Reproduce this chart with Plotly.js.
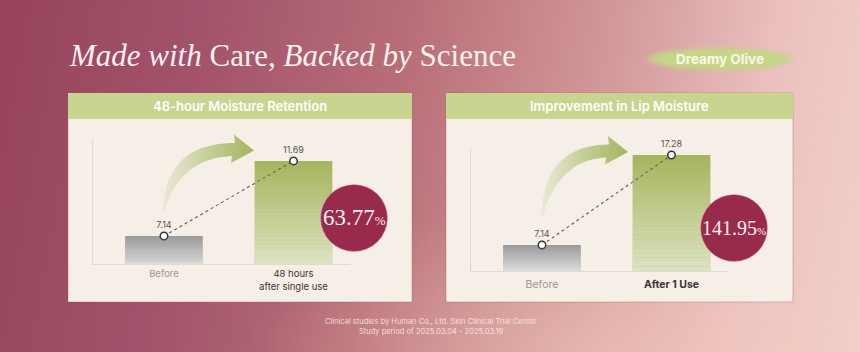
<!DOCTYPE html>
<html><head><meta charset="utf-8">
<script src="https://cdn.plot.ly/plotly-3.0.1.min.js"></script>
<style>
html,body{margin:0;padding:0;}
#chart{width:860px;height:352px;
background:
 radial-gradient(ellipse 60% 70% at 70% 105%, rgba(244,205,185,0.55), rgba(244,205,185,0) 70%),
 linear-gradient(100deg,#97445a 0%,#a2526a 22%,#b86e78 45%,#d39a9c 68%,#ebc0bf 85%,#f2d0cb 100%);}
</style></head>
<body><div id="chart"></div>
<script>
// ---- data ----
const chartTitle = '<i>Made with</i> Care, <i>Backed by</i> Science';
const badgeText = 'Dreamy Olive';
const panel1Title = '48-hour Moisture Retention';
const panel2Title = 'Improvement in Lip Moisture';
const categories1 = ['Before', '48 hours<br>after single use'];
const categories2 = ['Before', 'After 1 Use'];
const values1 = [7.14, 11.69];
const values2 = [7.14, 17.28];
const increase1 = '63.77';
const increase2 = '141.95';
const yRange1 = [5.44, 13.02];
const yRange2 = [4.21, 18.18];
const footer = ['Clinical studies by Human Co., Ltd. Skin Clinical Trial Center',
                'Study period of 2025.03.04 - 2025.03.19'];

// ---- helpers ----
const W = 860, H = 352;
const px = x => x / W, py = y => 1 - y / H;
const SANS = 'Inter, "Open Sans", sans-serif';
const SERIF = '"Liberation Serif", "DejaVu Serif", serif';

const traces = [];
const shapes = [];
const annotations = [];

function addPanel(x0, x1, title) {
  shapes.push({type:'rect', xref:'paper', yref:'paper', x0:px(x0), x1:px(x1), y0:py(302), y1:py(93),
    fillcolor:'#f6efe7', line:{color:'rgba(150,90,90,0.35)', width:1}, layer:'below'});
  shapes.push({type:'rect', xref:'paper', yref:'paper', x0:px(x0), x1:px(x1), y0:py(119), y1:py(93),
    fillcolor:'#c8d590', line:{width:0}, layer:'below'});
  annotations.push({xref:'paper', yref:'paper', x:px((x0+x1)/2), y:py(106.5), xanchor:'center', yanchor:'middle',
    text:title, showarrow:false, font:{family:SANS, size:13, color:'#ffffff', weight:600}});
}
addPanel(68, 412, panel1Title);
addPanel(446, 793, panel2Title);

function addChart(ax, vals, cats, yr) {
  const xa = ax === 1 ? 'x' : 'x2', ya = ax === 1 ? 'y' : 'y2';
  const idx = vals.map((v, i) => i);
  traces.push({type:'bar', x: idx, y: vals, width:0.6, xaxis:xa, yaxis:ya,
    marker:{color:['#9a9a9a', '#a5b55d'], line:{width:0}}, hoverinfo:'skip'});
  // vertical fade overlay on the bars
  const N = 26;
  vals.forEach((v, j) => {
    const lo = yr[0];
    for (let k = 0; k < N; k++) {
      const a = v - (v - lo) * k / N, b = v - (v - lo) * (k + 1) / N;
      shapes.push({type:'rect', xref:xa, yref:ya, x0:j - 0.3, x1:j + 0.3, y0:b, y1:a,
        fillcolor:'#ffffff', opacity:(j === 0 ? 0.66 : 0.62) * (k + 0.5) / N, line:{width:0}, layer:'above'});
    }
  });
  traces.push({type:'scatter', mode:'lines+markers+text', x: idx, y: vals, xaxis:xa, yaxis:ya,
    text: vals.map(v => v.toFixed(2)), textposition:'top center',
    textfont:{family:SANS, size:9, color:'#555555'},
    line:{color:'#5a5a5a', width:1.1, dash:'dot'},
    marker:{size:7.5, color:'#ffffff', line:{color:'#333333', width:1.5}}, hoverinfo:'skip', cliponaxis:false});
}
addChart(1, values1, categories1, yRange1);
addChart(2, values2, categories2, yRange2);

// curved arrows (decoration) on a full-canvas pixel overlay axis
function arrow(tx, ty, hx, hy) {
  const oe = [hx - 19, hy - 7.5], ht = [hx - 20, hy - 16], hb = [hx - 23, hy + 12.5], is = [hx - 22, hy + 5.5];
  const oc = [tx + 2, oe[1]], ic = [tx + 17, is[1] + 2];
  const X = [], Y = [];
  const n = 24;
  for (let i = 0; i <= n; i++) {
    const t = i / n;
    X.push((1-t)*(1-t)*tx + 2*(1-t)*t*oc[0] + t*t*oe[0]);
    Y.push((1-t)*(1-t)*ty + 2*(1-t)*t*oc[1] + t*t*oe[1]);
  }
  X.push(ht[0], hx, hb[0], is[0]); Y.push(ht[1], hy, hb[1], is[1]);
  for (let i = 0; i <= n; i++) {
    const t = i / n;
    X.push((1-t)*(1-t)*is[0] + 2*(1-t)*t*ic[0] + t*t*(tx + 1));
    Y.push((1-t)*(1-t)*is[1] + 2*(1-t)*t*ic[1] + t*t*ty);
  }
  traces.push({type:'scatter', mode:'lines', x:X, y:Y, xaxis:'x3', yaxis:'y3', fill:'toself',
    line:{width:0, color:'rgba(0,0,0,0)'}, hoverinfo:'skip',
    fillgradient:{type:'horizontal', colorscale:[[0,'rgba(226,230,204,0.7)'],[0.5,'#c3ce96'],[1,'#a4b55f']]}});
}
arrow(163, 211, 254, 150.5);
arrow(541, 218, 628, 152);

// percentage circles
function badge(cx, cy, r, val, size) {
  shapes.push({type:'circle', xref:'paper', yref:'paper', x0:px(cx - r), x1:px(cx + r), y0:py(cy + r), y1:py(cy - r),
    fillcolor:'#982a4b', line:{color:'rgba(235,170,180,0.5)', width:1}, layer:'above'});
  annotations.push({xref:'paper', yref:'paper', x:px(cx), y:py(cy), xanchor:'center', yanchor:'middle', showarrow:false,
    text: val + '<span style="font-size:' + Math.round(size * 0.55) + 'px">%</span>',
    font:{family:SERIF, size:size, color:'#fbf1f1'}});
}
badge(354, 218, 33.5, increase1, 23);
badge(734, 228, 33.5, increase2, 20);

// title
annotations.push({xref:'paper', yref:'paper', x:px(67), y:py(55), xanchor:'left', yanchor:'middle', showarrow:false,
  text: chartTitle, font:{family:SERIF, size:31, color:'#fbf2ef'}});

// Dreamy Olive glow
[[152, 27, 0.25], [144, 23, 0.4], [134, 19, 0.65], [122, 15, 0.9]].forEach(([w, h, o]) => {
  shapes.push({type:'circle', xref:'paper', yref:'paper', x0:px(720 - w/2), x1:px(720 + w/2), y0:py(59 + h/2), y1:py(59 - h/2),
    fillcolor:'#c4d785', opacity:o, line:{width:0}, layer:'below'});
});
annotations.push({xref:'paper', yref:'paper', x:px(720), y:py(59), xanchor:'center', yanchor:'middle', showarrow:false,
  text: badgeText, font:{family:SANS, size:13.5, color:'#fbf8e6', weight:700}});

// footer
footer.forEach((t, i) => annotations.push({xref:'paper', yref:'paper', x:px(431), y:py(321 + i * 10), xanchor:'center',
  yanchor:'middle', showarrow:false, text:t, font:{family:SANS, size:7.5, color:'rgba(255,238,236,0.85)'}}));

const xBase = {range:[-0.548, 1.444], showgrid:false, zeroline:false, showline:true, linecolor:'#e2d9d0', linewidth:1,
  ticks:'outside', ticklen:3, tickcolor:'rgba(0,0,0,0)', fixedrange:true};
const yBase = {showgrid:false, zeroline:false, showline:true, linecolor:'#e2d9d0', linewidth:1,
  showticklabels:false, ticks:'', fixedrange:true};

const layout = {
  width: W, height: H, margin:{l:0, r:0, t:0, b:0},
  paper_bgcolor:'rgba(0,0,0,0)', plot_bgcolor:'rgba(0,0,0,0)',
  showlegend:false, barmode:'overlay',
  xaxis: Object.assign({}, xBase, {domain:[px(93), px(351)], anchor:'y', tickvals:[0,1], ticklen:1,
    ticktext:['<span style="color:#9b9595">' + categories1[0] + '</span>', categories1[1]],
    tickfont:{family:SANS, size:9.5, color:'#3a3434'}}),
  yaxis: Object.assign({}, yBase, {domain:[py(264), py(139)], anchor:'x', range:yRange1}),
  xaxis2: Object.assign({}, xBase, {domain:[px(471), px(729)], anchor:'y2', tickvals:[0,1],
    ticktext:['<span style="color:#9b9595">' + categories2[0] + '</span>', '<b>' + categories2[1] + '</b>'],
    tickfont:{family:SANS, size:10.5, color:'#3a3434'}}),
  yaxis2: Object.assign({}, yBase, {domain:[py(271), py(147)], anchor:'x2', range:yRange2}),
  xaxis3: {domain:[0,1], range:[0, W], visible:false, anchor:'y3', fixedrange:true},
  yaxis3: {domain:[0,1], range:[H, 0], visible:false, anchor:'x3', fixedrange:true},
  shapes, annotations
};
Plotly.newPlot('chart', traces, layout, {displayModeBar:false, staticPlot:true});
</script></body></html>
